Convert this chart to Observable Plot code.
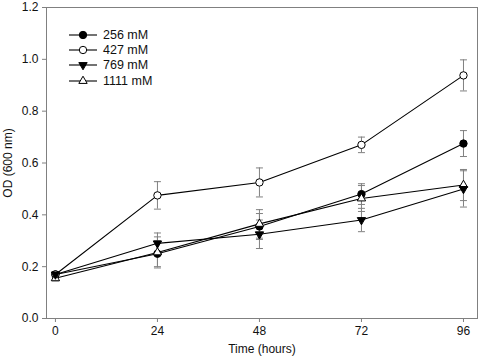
<!DOCTYPE html>
<html>
<head>
<meta charset="utf-8">
<script src="https://cdn.jsdelivr.net/npm/d3@7"></script>
<script src="https://cdn.jsdelivr.net/npm/@observablehq/plot@0.6"></script>
<style>
  body { margin: 0; background: #fff; }
  #wrap { position: relative; width: 480px; height: 356px; font-family: "Liberation Sans", Arial, sans-serif; }
  #legend { position: absolute; left: 68px; top: 27px; font-size: 12.5px; color: #111; }
  #legend .row { display: flex; align-items: center; height: 15.3px; }
  #legend svg { margin-right: 5px; }
</style>
</head>
<body>
<div id="wrap"><div id="legend"></div></div>
<script>
const times = [0, 24, 48, 72, 96];
const seriesNames = ["256 mM", "427 mM", "769 mM", "1111 mM"];
const od256 = [0.17, 0.25, 0.355, 0.48, 0.675];
const err256 = [0.01, 0.05, 0.05, 0.04, 0.05];
const od427 = [0.17, 0.475, 0.525, 0.67, 0.938];
const err427 = [0.01, 0.053, 0.056, 0.03, 0.06];
const od769 = [0.17, 0.29, 0.325, 0.38, 0.50];
const err769 = [0.01, 0.04, 0.055, 0.045, 0.07];
const od1111 = [0.155, 0.255, 0.365, 0.463, 0.515];
const err1111 = [0.01, 0.06, 0.055, 0.05, 0.06];
const yTicks = [0, 0.2, 0.4, 0.6, 0.8, 1.0, 1.2];

const values = [od256, od427, od769, od1111];
const errors = [err256, err427, err769, err1111];
const styles = {
  "256 mM": {symbol: "circle", fill: "black", rotate: 0, r: 3.7},
  "427 mM": {symbol: "circle", fill: "white", rotate: 0, r: 3.7},
  "769 mM": {symbol: "triangle", fill: "black", rotate: 180, r: 3.1},
  "1111 mM": {symbol: "triangle", fill: "white", rotate: 0, r: 3.1}
};
const data = [];
seriesNames.forEach((s, i) => times.forEach((t, j) => data.push({
  series: s, t, od: values[i][j], lo: values[i][j] - errors[i][j], hi: values[i][j] + errors[i][j],
  ...styles[s]
})));

const capSymbol = { draw(ctx, size) { const r = 3.5; ctx.moveTo(-r, 0); ctx.lineTo(r, 0); } };
const grey = "#808080";

const plot = Plot.plot({
  width: 480, height: 356,
  marginLeft: 46, marginRight: 3, marginTop: 7, marginBottom: 38,
  style: {fontFamily: "'Liberation Sans', Arial, sans-serif", fontSize: "12px", color: "#111", background: "white"},
  x: {domain: [-2.1, 99.3]},
  y: {domain: [0, 1.2]},
  r: {type: "identity"},
  marks: [
    Plot.frame({stroke: grey}),
    Plot.axisX({ticks: times, tickSize: 4, tickPadding: 4, tickFormat: d => d, stroke: grey, label: "Time (hours)", labelAnchor: "center", labelArrow: "none", labelOffset: 34}),
    Plot.axisY({ticks: yTicks, tickSize: 4, tickPadding: 4, tickFormat: d3.format(".1f"), stroke: grey, label: "OD (600 nm)", labelAnchor: "center", labelArrow: "none", labelOffset: 43}),
    Plot.ruleX(data, {x: "t", y1: "lo", y2: "hi", stroke: grey, strokeWidth: 1}),
    Plot.dot(data, {x: "t", y: "lo", symbol: capSymbol, stroke: grey, strokeWidth: 1}),
    Plot.dot(data, {x: "t", y: "hi", symbol: capSymbol, stroke: grey, strokeWidth: 1}),
    Plot.line(data, {x: "t", y: "od", z: "series", stroke: "black", strokeWidth: 1.1}),
    Plot.dot(data.filter(d => d.rotate === 0), {x: "t", y: "od", symbol: "symbol", fill: "fill", stroke: "black", strokeWidth: 1, r: "r"}),
    Plot.dot(data.filter(d => d.rotate === 180), {x: "t", y: "od", symbol: "symbol", fill: "fill", stroke: "black", strokeWidth: 1, r: "r", rotate: 180})
  ]
});
document.getElementById("wrap").prepend(plot);

const legend = document.getElementById("legend");
seriesNames.forEach(s => {
  const st = styles[s];
  const row = document.createElement("div");
  row.className = "row";
  const sym = st.symbol === "circle" ? d3.symbolCircle : d3.symbolTriangle;
  const path = d3.symbol(sym, Math.PI * st.r * st.r)();
  row.innerHTML = `<svg width="30" height="14"><line x1="1" x2="29" y1="7" y2="7" stroke="black" stroke-width="1.1"/>` +
    `<path d="${path}" transform="translate(15,7) rotate(${st.rotate})" fill="${st.fill}" stroke="black"/></svg><span>${s}</span>`;
  legend.appendChild(row);
});
</script>
</body>
</html>
